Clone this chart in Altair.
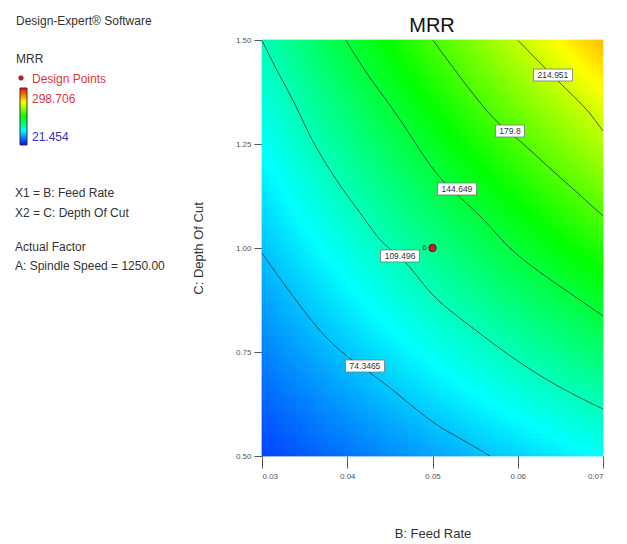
import altair as alt
import numpy as np
import pandas as pd

# ---------------- data ----------------
FEED_RANGE = [0.03, 0.07]
DEPTH_RANGE = [0.5, 1.5]
MRR_MIN, MRR_MAX = 21.454, 298.706

feed_ticks = [0.03, 0.04, 0.05, 0.06, 0.07]
depth_ticks = [0.50, 0.75, 1.00, 1.25, 1.50]

contour_labels = ["74.3465", "109.496", "144.649", "179.8", "214.951"]
contour_values = [74.3465, 109.496, 144.649, 179.8, 214.951]

# contour traces (feed, depth)
c1_feed = [0.0300, 0.03188, 0.03422, 0.03692, 0.03974, 0.04443, 0.04713, 0.04994, 0.05205, 0.05440, 0.05674]
c1_depth = [0.9880, 0.9327, 0.8678, 0.7957, 0.7404, 0.6755, 0.6274, 0.5817, 0.5553, 0.5288, 0.5000]
c2_feed = [0.0300, 0.03188, 0.03387, 0.03540, 0.03739, 0.03974, 0.04208, 0.04396, 0.04619, 0.04795,
           0.04994, 0.05287, 0.05592, 0.05909, 0.06261, 0.06613, 0.0700]
c2_depth = [1.4990, 1.4207, 1.3486, 1.2764, 1.2043, 1.1322, 1.0697, 1.0120, 0.9808, 0.9399,
            0.8846, 0.8365, 0.7885, 0.7404, 0.6923, 0.6514, 0.6130]
c3_feed = [0.03985, 0.04243, 0.04513, 0.04748, 0.04971, 0.05170, 0.05440, 0.05710, 0.05874, 0.06261, 0.06613, 0.0700]
c3_depth = [1.4990, 1.4135, 1.3413, 1.2692, 1.1971, 1.1490, 1.1010, 1.0457, 1.0024, 0.9399, 0.8918, 0.8365]
c4_feed = [0.05006, 0.05287, 0.05557, 0.05757, 0.06062, 0.06343, 0.06613, 0.0700]
c4_depth = [1.4990, 1.4207, 1.3486, 1.3005, 1.2524, 1.1971, 1.1490, 1.0769]
c5_feed = [0.06003, 0.06261, 0.06613, 0.06812, 0.0700]
c5_depth = [1.4990, 1.4447, 1.3726, 1.3341, 1.2812]

label_feed = [0.04208, 0.04619, 0.05287, 0.05909, 0.06413]
label_depth = [0.7163, 0.9808, 1.1418, 1.2812, 1.4159]

design_feed = [0.05]
design_depth = [1.00]
design_count = ["6"]

# ---------------- tables ----------------
traces = [(c1_feed, c1_depth), (c2_feed, c2_depth), (c3_feed, c3_depth),
          (c4_feed, c4_depth), (c5_feed, c5_depth)]
rows = []
for lab, val, (fs, ds) in zip(contour_labels, contour_values, traces):
    for i, (f, d) in enumerate(zip(fs, ds)):
        rows.append({"level": lab, "value": val, "order": i, "feed": f, "depth": d})
contours = pd.DataFrame(rows)

# quadratic response surface fitted to the read contour points
F = (contours["feed"].to_numpy() - 0.05) / 0.02
D = (contours["depth"].to_numpy() - 1.0) / 0.5
X = np.column_stack([np.ones_like(F), F, D, F * D, F ** 2, D ** 2])
coef, *_ = np.linalg.lstsq(X, contours["value"].to_numpy(), rcond=None)

n = 90
fe = np.linspace(FEED_RANGE[0], FEED_RANGE[1], n + 1)
de = np.linspace(DEPTH_RANGE[0], DEPTH_RANGE[1], n + 1)
cells = []
for i in range(n):
    for j in range(n):
        fc = ((fe[i] + fe[i + 1]) / 2 - 0.05) / 0.02
        dc = ((de[j] + de[j + 1]) / 2 - 1.0) / 0.5
        v = coef @ np.array([1, fc, dc, fc * dc, fc * fc, dc * dc])
        cells.append({"f0": fe[i], "f1": fe[i + 1], "d0": de[j], "d1": de[j + 1], "mrr": float(v)})
grid = pd.DataFrame(cells)

labels = pd.DataFrame({"label": contour_labels, "feed": label_feed, "depth": label_depth})
labels["shape"] = [
    "M{a},-{b}L{c},-{b}L{c},{b}L{a},{b}Z".format(a=-(len(s) * 5 + 4) / 40, c=(len(s) * 5 + 4) / 40, b=0.3)
    for s in contour_labels
]
design = pd.DataFrame({"feed": design_feed, "depth": design_depth, "n": design_count})

# ---------------- scales ----------------
ramp = ["#0000ff", "#00ffff", "#00ff00", "#ffff00", "#ff0000"]
stops = list(np.linspace(MRR_MIN, MRR_MAX, 5))
cscale = alt.Scale(domain=stops, range=ramp, interpolate="rgb", clamp=True)
xscale = alt.Scale(domain=FEED_RANGE, nice=False, zero=False)
yscale = alt.Scale(domain=DEPTH_RANGE, nice=False, zero=False)

xaxis = alt.Axis(values=feed_ticks, format=".2f", title="B: Feed Rate", grid=False, domain=False,
                 tickSize=12, tickColor="#555", labelFontSize=8, labelColor="#555", labelPadding=4,
                 titleFontSize=13, titleFontWeight="normal", titleColor="#333", titlePadding=47)
yaxis = alt.Axis(values=depth_ticks, format=".2f", title="C: Depth Of Cut", grid=False, domain=False,
                 tickSize=8, tickColor="#555", labelFontSize=8, labelColor="#555", labelPadding=3,
                 titleFontSize=13, titleFontWeight="normal", titleColor="#333", titlePadding=30)

heat = alt.Chart(grid).mark_rect(strokeWidth=0.8).encode(
    x=alt.X("f0:Q", scale=xscale, axis=xaxis),
    x2="f1",
    y=alt.Y("d0:Q", scale=yscale, axis=yaxis),
    y2="d1",
    color=alt.Color("mrr:Q", scale=cscale, legend=None),
    stroke=alt.Stroke("mrr:Q", scale=cscale, legend=None),
)

lines = alt.Chart(contours).mark_line(color="#1e4040", strokeWidth=1, opacity=0.85,
                                      interpolate="basis").encode(
    x=alt.X("feed:Q", scale=xscale), y=alt.Y("depth:Q", scale=yscale),
    detail="level:N", order="order:Q")

boxes = alt.Chart(labels).mark_point(filled=True, fill="white", stroke="#777", strokeWidth=0.8,
                                     size=1600, opacity=1).encode(
    x=alt.X("feed:Q", scale=xscale), y=alt.Y("depth:Q", scale=yscale),
    shape=alt.Shape("shape:N", scale=None))

ltext = alt.Chart(labels).mark_text(fontSize=8.5, color="#333", baseline="middle", align="center").encode(
    x=alt.X("feed:Q", scale=xscale), y=alt.Y("depth:Q", scale=yscale), text="label:N")

dpt = alt.Chart(design).mark_point(filled=True, fill="#c41e2a", stroke="#5a0000", strokeWidth=0.8,
                                   size=55, opacity=1).encode(
    x=alt.X("feed:Q", scale=xscale), y=alt.Y("depth:Q", scale=yscale))
dtext = alt.Chart(design).mark_text(fontSize=8, color="#2d3d2d", dx=-8, baseline="middle").encode(
    x=alt.X("feed:Q", scale=xscale), y=alt.Y("depth:Q", scale=yscale), text="n:N")

# ---------------- legend panel ----------------
def note(txt, x, y, size=12, color="#333", align="left"):
    return alt.Chart(pd.DataFrame({"t": [txt]})).mark_text(
        fontSize=size, color=color, align=align, baseline="alphabetic").encode(
        x=alt.value(x), y=alt.value(y), text="t:N")

notes = [
    note("MRR", 170, -8, size=20, color="#111", align="center"),
    note("Design-Expert® Software", -246, -15),
    note("MRR", -246, 23),
    note("Design Points", -230, 43, color="#d9383f"),
    note("298.706", -230, 63, color="#d9383f"),
    note("21.454", -230, 101, color="#3535b5"),
    note("X1 = B: Feed Rate", -247, 157),
    note("X2 = C: Depth Of Cut", -247, 177),
    note("Actual Factor", -247, 211),
    note("A: Spindle Speed = 1250.00", -247, 230),
]
legdot = alt.Chart(pd.DataFrame({"a": [0]})).mark_point(
    filled=True, fill="#c41e2a", stroke="#5a0000", strokeWidth=0.5, size=22, opacity=1).encode(
    x=alt.value(-241), y=alt.value(38))

grad = alt.LinearGradient(
    gradient="linear", x1=0, x2=0, y1=0, y2=1,
    stops=[alt.GradientStop(offset=k / 4, color=c) for k, c in enumerate(reversed(ramp))])
gradbar = alt.Chart(pd.DataFrame({"a": [0]})).mark_rect(
    fill=grad, stroke="#333", strokeWidth=1).encode(
    x=alt.value(-242), x2=alt.value(-235), y=alt.value(48), y2=alt.value(105))

chart = alt.layer(heat, lines, boxes, ltext, dpt, dtext, legdot, gradbar, *notes).properties(
    width=341, height=416,
    padding={"left": 262, "top": 40, "right": 24, "bottom": 88},
    autosize=alt.AutoSizeParams(type="none"),
    background="white",
).configure(font="Liberation Sans").configure_view(strokeWidth=0)

chart.save("out.html", embed_options={"renderer": "svg", "actions": False})
